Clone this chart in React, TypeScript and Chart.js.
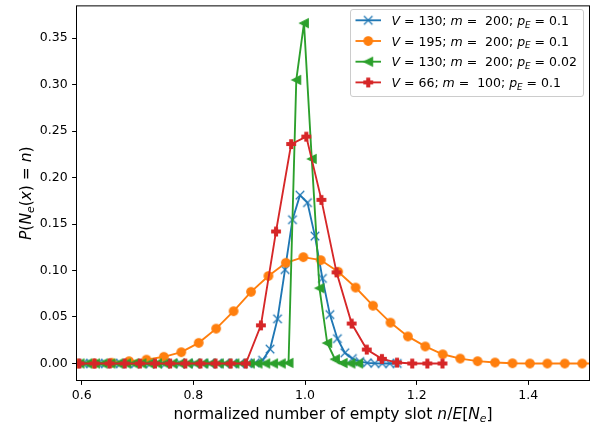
import React, { useEffect, useRef } from 'react';
import { Chart, registerables } from 'chart.js';
Chart.register(...registerables);

const FONT = "'DejaVu Sans', sans-serif";
const FS = 12.5;
const FS_LABEL = 15.5;

const X_TICKS = [0.6, 0.8, 1.0, 1.2, 1.4];
const Y_TICKS = [0, 0.05, 0.1, 0.15, 0.2, 0.25, 0.3, 0.35];

// V=130; m=200; pE=0.1
const blueX = [0.5891, 0.6025, 0.6159, 0.6293, 0.6427, 0.6561, 0.6695, 0.6829, 0.6963, 0.7097, 0.7231,
  0.7365, 0.7499, 0.7633, 0.7767, 0.7901, 0.8035, 0.8169, 0.8303, 0.8437, 0.8571, 0.8705, 0.8839, 0.8973,
  0.9107, 0.924, 0.9374, 0.9508, 0.9642, 0.9776, 0.991, 1.0044, 1.0178, 1.0312, 1.0446, 1.058, 1.0714,
  1.0848, 1.0982, 1.1116, 1.125, 1.1384, 1.1518, 1.1652];
const blueY = [0, 0, 0, 0, 0, 0, 0, 0, 0, 0, 0, 0, 0, 0, 0, 0, 0, 0, 0, 0, 0, 0, 0, 0,
  0.0007, 0.0035, 0.0155, 0.048, 0.101, 0.1546, 0.181, 0.173, 0.137, 0.0915, 0.0526, 0.0267, 0.0115,
  0.0053, 0.002, 0.0007, 0.0002, 0, 0, 0];

// V=195; m=200; pE=0.1
const orangeX = [0.5599, 0.5911, 0.6223, 0.6535, 0.6848, 0.716, 0.7472, 0.7784, 0.8096, 0.8409, 0.8721,
  0.9033, 0.9345, 0.9657, 0.997, 1.0282, 1.0594, 1.0906, 1.1218, 1.1531, 1.1843, 1.2155, 1.2467, 1.278,
  1.3092, 1.3404, 1.3716, 1.4028, 1.4341, 1.4653, 1.4965, 1.5277];
const orangeY = [0, 0, 0, 0.0008, 0.0025, 0.0042, 0.0072, 0.0122, 0.0222, 0.0375, 0.0563, 0.0771, 0.0941,
  0.1083, 0.1144, 0.1112, 0.0987, 0.0817, 0.0622, 0.044, 0.0291, 0.0184, 0.0099, 0.0053, 0.0025, 0.0011,
  0.0003, 0, 0, 0, 0, 0];

// V=130; m=200; pE=0.02
const greenX = [0.5823, 0.5962, 0.61, 0.6239, 0.6378, 0.6516, 0.6655, 0.6794, 0.6932, 0.7071, 0.721,
  0.7348, 0.7487, 0.7626, 0.7764, 0.7903, 0.8041, 0.818, 0.8319, 0.8457, 0.8596, 0.8735, 0.8873, 0.9012,
  0.915, 0.9289, 0.9428, 0.9566, 0.9705, 0.9844, 0.9982, 1.0121, 1.0259, 1.0398, 1.0537, 1.0675, 1.0814,
  1.0952];
const greenY = [0, 0, 0, 0, 0, 0, 0, 0, 0, 0, 0, 0, 0, 0, 0, 0, 0, 0, 0, 0, 0, 0, 0, 0, 0, 0, 0, 0,
  0.0006, 0.305, 0.366, 0.22, 0.081, 0.022, 0.0046, 0.0005, 0, 0];

// V=66; m=100; pE=0.1
const redX = [0.5687, 0.5958, 0.6229, 0.65, 0.6771, 0.7042, 0.7313, 0.7584, 0.7855, 0.8126, 0.8397, 0.8668,
  0.8939, 0.921, 0.9481, 0.9752, 1.0023, 1.0294, 1.0565, 1.0836, 1.1107, 1.1378, 1.1649, 1.192, 1.2191,
  1.2462];
const redY = [0, 0, 0, 0, 0, 0, 0, 0, 0, 0, 0, 0, 0, 0.041, 0.142, 0.236, 0.244, 0.176, 0.098, 0.043,
  0.015, 0.005, 0.001, 0, 0, 0];

type Seg = { t: string; i?: boolean; sub?: boolean };

const LABELS: Seg[][] = [
  [{ t: 'V', i: true }, { t: ' = 130; ' }, { t: 'm', i: true }, { t: ' =  200; ' }, { t: 'p', i: true }, { t: 'E', i: true, sub: true }, { t: ' = 0.1' }],
  [{ t: 'V', i: true }, { t: ' = 195; ' }, { t: 'm', i: true }, { t: ' =  200; ' }, { t: 'p', i: true }, { t: 'E', i: true, sub: true }, { t: ' = 0.1' }],
  [{ t: 'V', i: true }, { t: ' = 130; ' }, { t: 'm', i: true }, { t: ' =  200; ' }, { t: 'p', i: true }, { t: 'E', i: true, sub: true }, { t: ' = 0.02' }],
  [{ t: 'V', i: true }, { t: ' = 66; ' }, { t: 'm', i: true }, { t: ' =  100; ' }, { t: 'p', i: true }, { t: 'E', i: true, sub: true }, { t: ' = 0.1' }],
];

const XLABEL: Seg[] = [{ t: 'normalized number of empty slot ' }, { t: 'n', i: true }, { t: '/' }, { t: 'E', i: true }, { t: '[' }, { t: 'N', i: true }, { t: 'e', i: true, sub: true }, { t: ']' }];
const YLABEL: Seg[] = [{ t: 'P', i: true }, { t: '(' }, { t: 'N', i: true }, { t: 'e', i: true, sub: true }, { t: '(' }, { t: 'x', i: true }, { t: ') = ' }, { t: 'n', i: true }, { t: ')' }];

const COLORS = ['#1f77b4', '#ff7f0e', '#2ca02c', '#d62728'];
const MARKERS = ['x', 'o', '<', 'P'];

function makeMarker(kind: string, color: string): HTMLCanvasElement {
  const c = document.createElement('canvas');
  c.width = 18;
  c.height = 18;
  const g = c.getContext('2d')!;
  g.translate(9, 9);
  const s = 8.5;
  const h = s / 2;
  g.fillStyle = color;
  g.strokeStyle = color;
  g.lineWidth = 1.25;
  g.lineJoin = 'miter';
  g.beginPath();
  if (kind === 'o') {
    g.arc(0, 0, h, 0, Math.PI * 2);
    g.fill();
    g.stroke();
  } else if (kind === 'x') {
    g.moveTo(-h, -h); g.lineTo(h, h);
    g.moveTo(-h, h); g.lineTo(h, -h);
    g.stroke();
  } else if (kind === '<') {
    g.moveTo(-h, 0); g.lineTo(h, -h); g.lineTo(h, h); g.closePath();
    g.fill();
    g.stroke();
  } else {
    const pts = [[-1, -3], [1, -3], [1, -1], [3, -1], [3, 1], [1, 1], [1, 3], [-1, 3], [-1, 1], [-3, 1], [-3, -1], [-1, -1]];
    const k = s / 6;
    pts.forEach((p, i) => (i === 0 ? g.moveTo(p[0] * k, p[1] * k) : g.lineTo(p[0] * k, p[1] * k)));
    g.closePath();
    g.fill();
    g.stroke();
  }
  return c;
}

function segFont(sg: Seg, size: number) {
  return `${sg.i ? 'italic ' : ''}${sg.sub ? size * 0.7 : size}px ${FONT}`;
}
function richWidth(ctx: CanvasRenderingContext2D, segs: Seg[], size: number) {
  let w = 0;
  for (const sg of segs) {
    ctx.font = segFont(sg, size);
    w += ctx.measureText(sg.t).width;
  }
  return w;
}
function drawRich(ctx: CanvasRenderingContext2D, segs: Seg[], x: number, y: number, size: number) {
  let cx = x;
  ctx.textBaseline = 'alphabetic';
  ctx.textAlign = 'left';
  for (const sg of segs) {
    ctx.font = segFont(sg, size);
    ctx.fillText(sg.t, cx, sg.sub ? y + size * 0.22 : y);
    cx += ctx.measureText(sg.t).width;
  }
}

export default function App() {
  const ref = useRef<HTMLCanvasElement>(null);
  useEffect(() => {
    const canvas = ref.current!;
    const markers = MARKERS.map((m, i) => makeMarker(m, COLORS[i]));
    const series = [
      { x: blueX, y: blueY },
      { x: orangeX, y: orangeY },
      { x: greenX, y: greenY },
      { x: redX, y: redY },
    ];
    const overlay = {
      id: 'overlay',
      afterDatasetsDraw(chart: any) {
        const { ctx, chartArea: a } = chart;
        ctx.save();
        ctx.strokeStyle = '#000';
        ctx.lineWidth = 1;
        ctx.strokeRect(a.left, a.top, a.right - a.left, a.bottom - a.top);
        ctx.restore();
      },
      afterDraw(chart: any) {
        const { ctx, chartArea: a } = chart;
        ctx.save();
        ctx.fillStyle = '#000';
        // x label
        const wx = richWidth(ctx, XLABEL, FS_LABEL);
        drawRich(ctx, XLABEL, (a.left + a.right) / 2 - wx / 2, 419, FS_LABEL);
        // y label
        const wy = richWidth(ctx, YLABEL, FS_LABEL);
        ctx.save();
        ctx.translate(30.5, (a.top + a.bottom) / 2);
        ctx.rotate(-Math.PI / 2);
        drawRich(ctx, YLABEL, -wy / 2, 0, FS_LABEL);
        ctx.restore();
        // legend
        const L = { x: 350.5, y: 9.5, w: 233, h: 87 };
        const r = 2.5;
        ctx.beginPath();
        ctx.moveTo(L.x + r, L.y);
        ctx.lineTo(L.x + L.w - r, L.y);
        ctx.arcTo(L.x + L.w, L.y, L.x + L.w, L.y + r, r);
        ctx.lineTo(L.x + L.w, L.y + L.h - r);
        ctx.arcTo(L.x + L.w, L.y + L.h, L.x + L.w - r, L.y + L.h, r);
        ctx.lineTo(L.x + r, L.y + L.h);
        ctx.arcTo(L.x, L.y + L.h, L.x, L.y + L.h - r, r);
        ctx.lineTo(L.x, L.y + r);
        ctx.arcTo(L.x, L.y, L.x + r, L.y, r);
        ctx.closePath();
        ctx.fillStyle = 'rgba(255,255,255,0.8)';
        ctx.fill();
        ctx.strokeStyle = '#cccccc';
        ctx.lineWidth = 1;
        ctx.stroke();
        const rows = [20.3, 41, 61.7, 82.4];
        rows.forEach((ry, i) => {
          ctx.beginPath();
          ctx.strokeStyle = COLORS[i];
          ctx.lineWidth = 1.875;
          ctx.moveTo(355.5, ry);
          ctx.lineTo(381, ry);
          ctx.stroke();
          const m = markers[i];
          ctx.drawImage(m, 368.2 - m.width / 2, ry - m.height / 2);
          ctx.fillStyle = '#000';
          drawRich(ctx, LABELS[i], 391.5, ry + 4.6, FS);
        });
        ctx.restore();
      },
    };

    const tickFont = { family: FONT, size: FS };
    const chart = new Chart(canvas, {
      type: 'scatter',
      data: {
        datasets: series.map((s, i) => ({
          label: LABELS[i].map((g) => g.t).join(''),
          data: s.x.map((x, j) => ({ x, y: s.y[j] })),
          showLine: true,
          borderColor: COLORS[i],
          backgroundColor: COLORS[i],
          borderWidth: 1.875,
          pointStyle: markers[i] as any,
          pointRadius: 4,
          pointHoverRadius: 4,
          tension: 0,
          fill: false,
          order: 4 - i,
        })),
      },
      options: {
        responsive: false,
        animation: false,
        devicePixelRatio: 1,
        layout: { padding: { top: 2.5, right: 12.5, left: 0, bottom: 0 } },
        plugins: { legend: { display: false }, tooltip: { enabled: false }, title: { display: false } },
        events: [],
        scales: {
          x: {
            type: 'linear',
            min: 0.5907,
            max: 1.5096,
            afterBuildTicks: (sc: any) => { sc.ticks = X_TICKS.map((v) => ({ value: v })); },
            afterFit: (sc: any) => {
              sc.height = 50.5;
              sc.paddingLeft = 0;
              sc.paddingRight = 0;
              sc.paddingTop = 0;
              sc.paddingBottom = 0;
            },
            ticks: {
              callback: (v: any) => Number(v).toFixed(1),
              font: tickFont,
              color: '#000',
              padding: 3,
              maxRotation: 0,
              autoSkip: false,
            },
            grid: { display: true, drawOnChartArea: false, drawTicks: true, tickLength: 4.4, tickWidth: 1, tickColor: '#000' },
            border: { display: false },
          },
          y: {
            type: 'linear',
            min: -0.0183,
            max: 0.3846,
            afterBuildTicks: (sc: any) => { sc.ticks = Y_TICKS.map((v) => ({ value: v })); },
            afterFit: (sc: any) => {
              sc.width = 76.5;
              sc.paddingLeft = 0;
              sc.paddingRight = 0;
              sc.paddingTop = 0;
              sc.paddingBottom = 0;
            },
            ticks: {
              callback: (v: any) => Number(v).toFixed(2),
              font: tickFont,
              color: '#000',
              padding: 4.4,
              autoSkip: false,
            },
            grid: { display: true, drawOnChartArea: false, drawTicks: true, tickLength: 4.4, tickWidth: 1, tickColor: '#000' },
            border: { display: false },
          },
        },
      },
      plugins: [overlay],
    } as any);
    return () => chart.destroy();
  }, []);
  return (
    <div style={{ position: 'absolute', left: 0, top: 0, width: 602, height: 431 }}>
      <canvas ref={ref} width={602} height={431} style={{ width: 602, height: 431, display: 'block' }} />
    </div>
  );
}
